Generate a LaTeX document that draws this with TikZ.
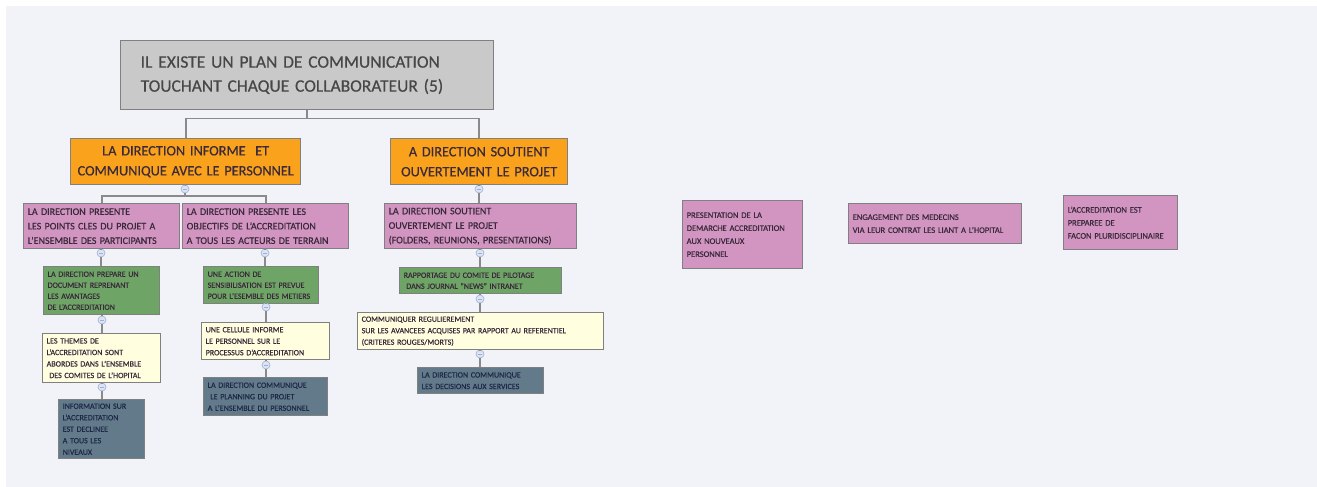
\documentclass[tikz,border=0pt]{standalone}
\usepackage{fontspec}
\setmainfont{Carlito}[FakeBold=0.5]
\definecolor{canvas}{HTML}{F2F3F8}
\definecolor{rootfill}{HTML}{C9C9C9}
\definecolor{edgegray}{HTML}{808080}
\definecolor{linegray}{HTML}{8A8A8A}
\definecolor{orangefill}{HTML}{FAA21C}
\definecolor{pinkfill}{HTML}{D295C2}
\definecolor{greenfill}{HTML}{6EA566}
\definecolor{creamfill}{HTML}{FFFFE0}
\definecolor{slatefill}{HTML}{637A8A}
\definecolor{inkdark}{HTML}{3A2A3A}
\definecolor{inknavy}{HTML}{1E2A48}
\definecolor{knobfill}{HTML}{DCE4F4}
\definecolor{knobline}{HTML}{9DB0D6}
\tikzset{
  box/.style={draw=edgegray, line width=1.4pt, anchor=north west, inner xsep=4pt,
    inner ysep=2pt, align=left, text=inkdark},
  rootbox/.style={box, fill=rootfill, inner xsep=20pt, text=black!72,
    font=\fontsize{17.5}{24}\selectfont},
  headbox/.style={box, fill=orangefill, align=center,
    font=\fontsize{14.3}{20}\selectfont},
  pinkbox/.style={box, fill=pinkfill, font=\fontsize{10}{14.5}\selectfont},
  sidebox/.style={box, fill=pinkfill, font=\fontsize{8.5}{13}\selectfont},
  greenbox/.style={box, fill=greenfill, font=\fontsize{8}{11}\selectfont},
  creambox/.style={box, fill=creamfill, font=\fontsize{8}{11.5}\selectfont},
  slatebox/.style={box, fill=slatefill, text=inknavy, font=\fontsize{8}{11.5}\selectfont},
  link/.style={draw=linegray, line width=1.6pt},
  knob/.style={circle, minimum size=8pt, inner sep=0pt, fill=knobfill, draw=knobline,
    line width=0.6pt,
    path picture={\draw[knobline, line width=0.7pt]
      ([xshift=-2pt]path picture bounding box.center) --
      ([xshift=2pt]path picture bounding box.center);}},
}
\begin{document}
\begin{tikzpicture}[x=1pt,y=-1pt]
\useasboundingbox (0,0) rectangle (1317,487);
\fill[white] (0,0) rectangle (1317,487);
\fill[canvas] (6,6) rectangle (1317,487);

% top of the tree
\node[rootbox, minimum width=373pt, minimum height=69pt, text width=333pt] (root) at (120,40)
  {IL EXISTE UN PLAN DE COMMUNICATION\\TOUCHANT CHAQUE COLLABORATEUR (5)};
\node[headbox, minimum width=230pt, minimum height=46pt, text width=222pt] (h1) at (70,138)
  {LA DIRECTION INFORME\ \ ET\\COMMUNIQUE AVEC LE PERSONNEL};
\node[headbox, minimum width=177pt, minimum height=46pt, text width=169pt] (h2) at (390,138)
  {A DIRECTION SOUTIENT\\OUVERTEMENT LE PROJET};

% second level
\node[pinkbox, minimum width=156pt, minimum height=45pt, text width=148pt] (p1) at (23,203)
  {LA DIRECTION PRESENTE\\LES POINTS CLES DU PROJET A\\L'ENSEMBLE DES PARTICIPANTS};
\node[pinkbox, minimum width=166pt, minimum height=45pt, text width=158pt] (p2) at (182,203)
  {LA DIRECTION PRESENTE LES\\OBJECTIFS DE L'ACCREDITATION\\A TOUS LES ACTEURS DE TERRAIN};
\node[pinkbox, minimum width=192pt, minimum height=45pt, text width=184pt] (p3) at (384,203)
  {LA DIRECTION SOUTIENT\\OUVERTEMENT LE PROJET\\(FOLDERS, REUNIONS, PRESENTATIONS)};

% first column
\node[greenbox, minimum width=116pt, minimum height=48pt, text width=108pt] (g1) at (43,266)
  {LA DIRECTION PREPARE UN\\DOCUMENT REPRENANT\\LES AVANTAGES\\DE L'ACCREDITATION};
\node[creambox, minimum width=118pt, minimum height=49pt, text width=110pt] (y1) at (42,333)
  {LES THEMES DE\\L'ACCREDITATION SONT\\ABORDES DANS L'ENSEMBLE\\\ DES COMITES DE L'HOPITAL};
\node[slatebox, minimum width=86pt, minimum height=59pt, text width=78pt] (s1) at (58,399)
  {INFORMATION SUR\\L'ACCREDITATION\\EST DECLINEE\\A TOUS LES\\NIVEAUX};

% second column
\node[greenbox, minimum width=115pt, minimum height=37pt, text width=107pt] (g2) at (203,266)
  {UNE ACTION DE\\SENSIBILISATION EST PREVUE\\POUR L'ESEMBLE DES METIERS};
\node[creambox, minimum width=128pt, minimum height=37pt, text width=120pt] (y2) at (201,322)
  {UNE CELLULE INFORME\\LE PERSONNEL SUR LE\\PROCESSUS D'ACCREDITATION};
\node[slatebox, minimum width=124pt, minimum height=38pt, text width=116pt] (s2) at (203,377)
  {LA DIRECTION COMMUNIQUE\\\ LE PLANNING DU PROJET\\A L'ENSEMBLE DU PERSONNEL};

% third column
\node[greenbox, minimum width=162pt, minimum height=26pt, text width=154pt] (g3) at (399,267)
  {RAPPORTAGE DU COMITE DE PILOTAGE\\\ DANS JOURNAL "NEWS" INTRANET};
\node[creambox, minimum width=246pt, minimum height=37pt, text width=238pt] (y3) at (357,312)
  {COMMUNIQUER REGULIEREMENT\\SUR LES AVANCEES ACQUISES PAR RAPPORT AU REFERENTIEL\\(CRITERES ROUGES/MORTS)};
\node[slatebox, minimum width=126pt, minimum height=26pt, text width=118pt] (s3) at (417,367)
  {LA DIRECTION COMMUNIQUE\\LES DECISIONS AUX SERVICES};

% free-standing topics
\node[sidebox, minimum width=120pt, minimum height=68pt, text width=112pt] (f1) at (682,200)
  {PRESENTATION DE LA\\DEMARCHE ACCREDITATION\\AUX NOUVEAUX\\PERSONNEL};
\node[sidebox, minimum width=173pt, minimum height=40pt, text width=165pt] (f2) at (848,203)
  {ENGAGEMENT DES MEDECINS\\VIA LEUR CONTRAT LES LIANT A L'HOPITAL};
\node[sidebox, minimum width=114pt, minimum height=54pt, text width=106pt] (f3) at (1063,195)
  {L'ACCREDITATION EST\\PREPAREE DE\\FACON PLURIDISCIPLINAIRE};

% collapse knobs
\node[knob] (k1) at (185,189) {};
\node[knob] (k2) at (479,189) {};
\node[knob] (kp1) at (101,253) {};
\node[knob] (kp2) at (265,253) {};
\node[knob] (kp3) at (480,253) {};
\node[knob] (kg1) at (102,320) {};
\node[knob] (ky1) at (102,387) {};
\node[knob] (kg2) at (266,307) {};
\node[knob] (ky2) at (266,365) {};
\node[knob] (kg3) at (480,299) {};
\node[knob] (ky3) at (480,354) {};

% connectors
\path[link] (root.south) -- ++(0,8) -| (h1.north);
\path[link] (root.south) -- ++(0,8) -| (h2.north);
\path[link] (h1.south) -- (k1.north);
\path[link] (k1.south) -- ++(0,2.5) -| (p1.north);
\path[link] (k1.south) -- ++(0,2.5) -| (p2.north);
\path[link] (h2.south -| k2) -- (k2.north);
\path[link] (k2.south) -- (k2 |- p3.north);
\path[link] (p1.south -| kp1) -- (kp1.north);
\path[link] (kp1.south) -- (kp1 |- g1.north);
\path[link] (g1.south -| kg1) -- (kg1.north);
\path[link] (kg1.south) -- (kg1 |- y1.north);
\path[link] (y1.south -| ky1) -- (ky1.north);
\path[link] (ky1.south) -- (ky1 |- s1.north);
\path[link] (p2.south -| kp2) -- (kp2.north);
\path[link] (kp2.south) -- (kp2 |- g2.north);
\path[link] (g2.south -| kg2) -- (kg2.north);
\path[link] (kg2.south) -- (kg2 |- y2.north);
\path[link] (y2.south -| ky2) -- (ky2.north);
\path[link] (ky2.south) -- (ky2 |- s2.north);
\path[link] (p3.south -| kp3) -- (kp3.north);
\path[link] (kp3.south) -- (kp3 |- g3.north);
\path[link] (g3.south -| kg3) -- (kg3.north);
\path[link] (kg3.south) -- (kg3 |- y3.north);
\path[link] (y3.south -| ky3) -- (ky3.north);
\path[link] (ky3.south) -- (ky3 |- s3.north);
\end{tikzpicture}
\end{document}
